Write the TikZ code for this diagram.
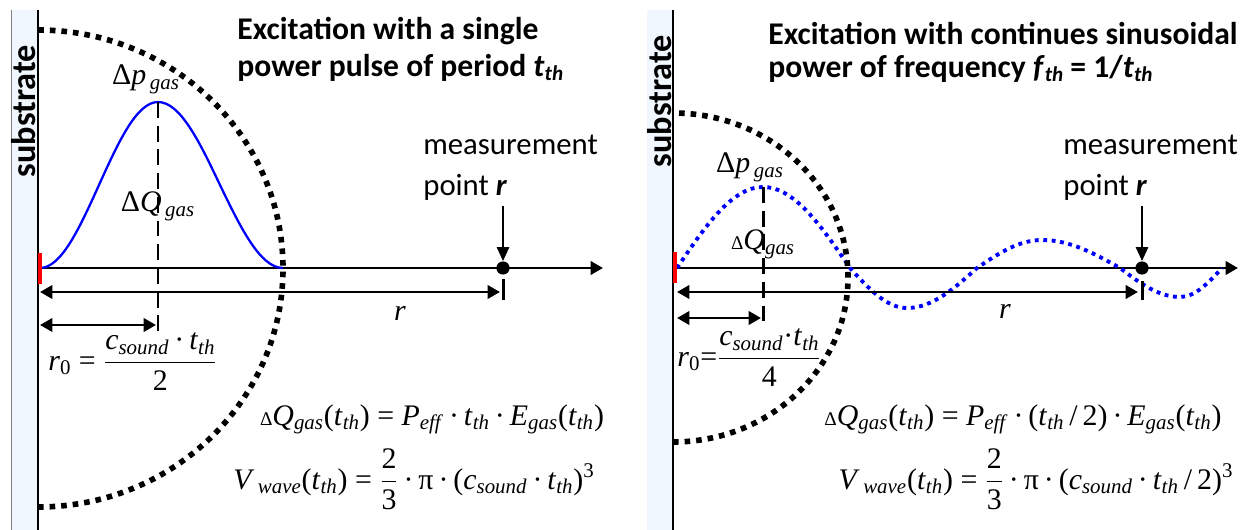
\documentclass[tikz,border=0pt]{standalone}
\usepackage{fontspec}
\setmainfont{Carlito}
\newfontfamily\tmsfont{Liberation Serif}
\usetikzlibrary{arrows.meta, positioning, calc}
\definecolor{SubstrateBlue}{RGB}{240,247,254}

\newcommand{\thsub}[1]{\textit{#1}\raisebox{-0.2ex}{\fontsize{12}{12}\selectfont\textit{th}}}
\newcommand{\varsub}[2]{\textit{#1}\textsubscript{\textit{#2}}}
\newcommand{\dotop}{\,\textperiodcentered\,}
\newcommand{\smallDelta}{{\fontsize{11}{11}\selectfont Δ}}
\newcommand{\fracbox}[2]{$\displaystyle\frac{\hbox{#1}}{\hbox{#2}}$}

\begin{document}
\begin{tikzpicture}[
        x=0.02cm, y=-0.02cm,
        strip/.style={fill=SubstrateBlue, draw=none},
        wall/.style={line width=1.2pt},
        axis/.style={-{Triangle[length=7pt,width=7.5pt]}, line width=1.7pt},
        dimline/.style={{Triangle[length=7pt,width=7.5pt]}-{Triangle[length=7pt,width=7.5pt]}, line width=1.7pt},
        pointer/.style={-{Triangle[length=8pt,width=7pt]}, line width=1.2pt},
        front/.style={line width=3.2pt, dash pattern=on 3.2pt off 3.4pt},
        peakline/.style={line width=1.7pt, dash pattern=on 9pt off 4.5pt},
        pulse/.style={blue, line width=1.3pt},
        wave/.style={blue, line width=2.2pt, dash pattern=on 2.2pt off 2.6pt},
        source/.style={red, line width=2.4pt},
        probe/.style={circle, fill, inner sep=0pt, minimum size=7.5pt},
        title/.style={font=\bfseries\fontsize{18}{21}\selectfont, anchor=base west, inner sep=0pt},
        note/.style={font=\fontsize{17.5}{22.5}\selectfont, anchor=base west, inner sep=0pt},
        wallname/.style={font=\bfseries\fontsize{19.5}{19.5}\selectfont, rotate=90, inner sep=0pt},
        eq/.style={font=\tmsfont\fontsize{17}{20}\selectfont, inner sep=0pt, anchor=base}
    ]
    \useasboundingbox (0,0) rectangle (1250,530);

    % left panel: single power pulse
    \fill[strip] (11,10) rectangle (38,530);
    \draw[line width=0.5pt, gray] (11,10) -- (11,530);
    \node[wallname] (subL) at (24,111) {substrate};
    \draw[wall] (38,10) -- (38,530);

    \node[title] (titleLa) at (237,40) {Excitation with a single};
    \node[title] (titleLb) at (237,77) {power pulse of period \thsub{t}};

    \coordinate (srcL) at (40,268);
    \coordinate (peakL) at (158,102);
    \draw[axis] (38,268) -- (603,268);
    \draw[pulse] (srcL) cos (99,185) sin (peakL) cos (220,185) sin (283,268);
    \draw[peakline] (peakL) -- (158,332);
    \draw[source] (40,253) -- (40,284);

    \node[note] (measLa) at (423,155) {measurement};
    \node[note] (measLb) at (423,195) {point \textbf{\textit{r}}};
    \node[probe] (probeL) at (503,268) {};
    \draw[pointer] ([yshift=-3pt]measLb.south -| probeL) -- (probeL.north);
    \draw[line width=1.7pt] (503,279) -- (503,300);

    \draw[dimline] (40,292) -- (500,292);
    \draw[dimline] (40,325) -- (156,325);
    \node[eq] (rL) at (400,320) {\textit{r}};

    \draw[front] (38,507) arc[start angle=90, end angle=-90, x radius=245, y radius=238.5];

    \node[eq] (dpL) at (146,85) {Δ\varsub{p}{\,gas}};
    \node[eq] (dQL) at (158,212) {Δ\varsub{Q}{\,gas}};
    \node[eq, anchor=base west] (rzeroL) at (48,370)
        {\textit{r}\textsubscript{0} = \fracbox{\varsub{c}{sound}\dotop\varsub{t}{th}}{2}};

    \node[eq] (gasL) at (432,425)
        {\smallDelta\varsub{Q}{gas}(\varsub{t}{th}) = \varsub{P}{eff}\dotop\varsub{t}{th}\dotop\varsub{E}{gas}(\varsub{t}{th})};
    \node[eq] (volL) at (414,489)
        {\varsub{V}{\,wave}(\varsub{t}{th}) = \fracbox{2}{3}\dotop π\dotop(\varsub{c}{sound}\dotop\varsub{t}{th})\textsuperscript{3}};

    % right panel: continuous sinusoidal power
    \fill[strip] (647,10) rectangle (673,530);
    \node[wallname] (subR) at (660,101) {substrate};
    \draw[wall] (673,10) -- (673,530);

    \node[title] (titleRa) at (768,45) {Excitation with continues sinusoidal};
    \node[title] (titleRb) at (768,78) {power of frequency \thsub{f} = 1/\thsub{t}};

    \coordinate (srcR) at (677,268);
    \coordinate (peakR) at (763,187);
    \draw[axis] (673,268) -- (1238,268);
    \draw[wave] (srcR) sin (peakR) cos (850,268) sin (907,308) cos (977,268)
        sin (1042,240) cos (1120,268) sin (1180,297) cos (1222,268);
    \draw[peakline] (peakR) -- (763,327);
    \draw[source] (675,252) -- (675,283);

    \node[note] (measRa) at (1063,155) {measurement};
    \node[note] (measRb) at (1063,195) {point \textbf{\textit{r}}};
    \node[probe] (probeR) at (1142,268) {};
    \draw[pointer] ([yshift=-3pt]measRb.south -| probeR) -- (probeR.north);
    \draw[line width=1.7pt] (1142,281) -- (1142,300);

    \draw[dimline] (677,292) -- (1138,292);
    \draw[dimline] (677,318) -- (761,318);
    \node[eq] (rR) at (1005,318) {\textit{r}};

    \draw[front] (673,442) arc[start angle=90, end angle=-90, x radius=175, y radius=164.5];

    \node[eq] (dpR) at (750,173) {Δ\varsub{p}{\,gas}};
    \node[eq] (dQR) at (763,250) {\smallDelta\varsub{Q}{gas}};
    \node[eq, anchor=base west] (rzeroR) at (677,366)
        {\textit{r}\textsubscript{0}=\fracbox{\varsub{c}{sound}\textperiodcentered\varsub{t}{th}}{4}};

    \node[eq] (gasR) at (1023,425)
        {\smallDelta\varsub{Q}{gas}(\varsub{t}{th}) = \varsub{P}{eff}\dotop(\varsub{t}{th}\,/\,2)\dotop\varsub{E}{gas}(\varsub{t}{th})};
    \node[eq] (volR) at (1036,489)
        {\varsub{V}{\,wave}(\varsub{t}{th}) = \fracbox{2}{3}\dotop π\dotop(\varsub{c}{sound}\dotop\varsub{t}{th}\,/\,2)\textsuperscript{3}};
\end{tikzpicture}
\end{document}
